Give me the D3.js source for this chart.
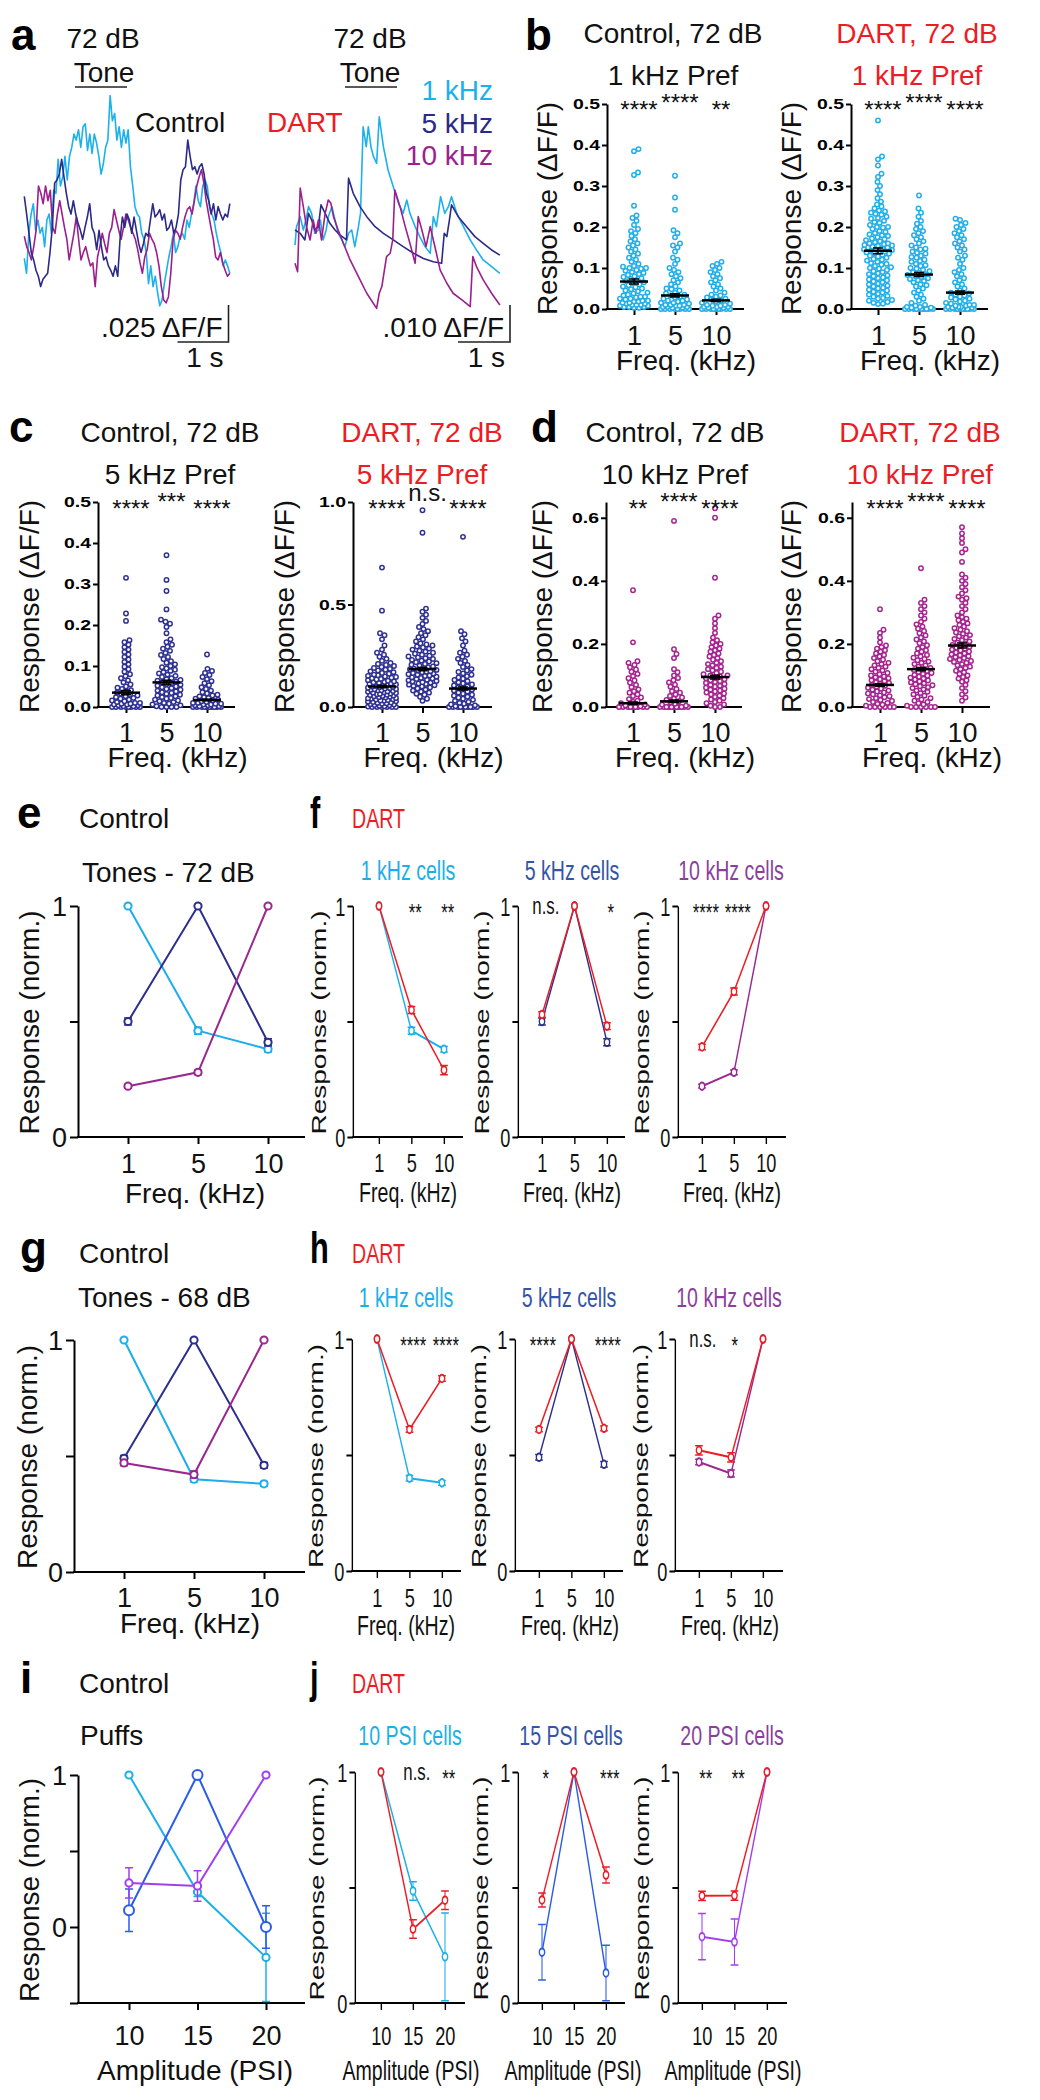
<!DOCTYPE html>
<html><head><meta charset="utf-8">
<script src="https://cdn.jsdelivr.net/npm/d3@7"></script>
<style>body{margin:0;background:#fff}svg{display:block}</style>
</head><body>
<svg id="fig" width="1040" height="2100"></svg>
<script>
// ================= DATA =================
// Panel a – example traces, values in ΔF/F × 1000 (baseline = 0)
const ctrlDuration = 4.03; // s, control traces sampled uniformly
const ctrl1k = [-17,-27,0,13,20,2,9,0,4,-9,9,13,0,29,27,50,32,38,52,36,52,58,67,63,70,58,72,74,56,67,54,67,61,52,40,47,58,63,93,76,81,63,72,58,70,61,70,45,32,18,13,11,0,-4,-13,-34,-22,-36,-29,-40,-49,-45,-34,-25,-16,-9,0,-13,-9,-2,0,-4,9,4,13,20,32,22,18,32,36,32,18,13,9,0,-7,-13,-22,-18,-22,-27];
const ctrl5k = [25,13,0,-13,-18,-25,-29,-36,-31,-29,-27,-13,4,34,36,40,50,38,27,18,13,22,13,7,2,-4,4,11,20,4,0,-11,2,-9,-18,-16,-22,-25,-29,-22,-29,-4,11,4,13,9,0,11,2,-7,-13,-7,0,-2,9,20,11,13,16,9,13,2,4,9,0,4,13,36,43,45,63,52,43,45,40,45,47,40,27,22,13,20,9,18,13,9,13,11,20];
const ctrl10k = [-2,-9,-13,-18,-9,2,32,27,20,32,22,29,4,0,13,22,13,4,-4,-18,-9,0,11,-4,-18,-13,-9,-16,-22,-20,-36,-16,-9,0,-7,-13,0,4,16,9,2,-4,4,13,9,4,0,-4,-11,-20,-27,-16,-11,0,-4,-7,-13,-22,-36,-45,-47,-43,-27,-4,2,0,-4,4,11,16,18,13,22,32,38,43,34,22,13,4,-4,-16,-18,-13,-20,-25,-29,-27];
// DART traces: [time (s), ΔF/F × 1000]
const dart1k = [[0,-3.2],[.03,1.8],[.10,4.5],[.16,.9],[.21,3.6],[.26,7.2],[.32,5.4],[.38,0],[.45,.9],[.49,3.6],[.54,-1.8],[.60,.9],[.64,4.5],[.71,7.2],[.77,3.6],[.83,0],[.90,-1.8],[.96,-3.6],[1.03,0],[1.09,.9],[1.15,-3.6],[1.22,1.8],[1.26,5.4],[1.31,28.8],[1.37,23.4],[1.41,28.8],[1.46,23.4],[1.51,20.7],[1.57,18.9],[1.62,31.5],[1.70,23.4],[1.79,17.1],[1.89,12.6],[1.99,8.1],[2.08,5.4],[2.15,9],[2.21,5.4],[2.31,1.8],[2.40,-.9],[2.50,-3.6],[2.60,-5.4],[2.66,4.5],[2.72,1.8],[2.80,9.9],[2.88,5.4],[2.95,7.2],[3.01,9.9],[3.11,5.4],[3.24,1.8],[3.37,-1.8],[3.49,-4.5],[3.62,-7.2],[3.78,-9],[3.94,-10.8]];
const dart5k = [[0,.9],[.10,0],[.19,-1.8],[.26,5.4],[.32,3.6],[.38,.9],[.45,1.8],[.50,7.7],[.58,5.4],[.67,2.7],[.77,.9],[.87,-.5],[.99,-1.8],[1.03,14.9],[1.12,10.8],[1.25,7.2],[1.38,4.5],[1.54,1.8],[1.70,0],[1.89,-1.8],[2.08,-3.6],[2.28,-5.4],[2.47,-6.8],[2.66,-7.7],[2.82,-8.1],[2.87,0],[2.92,-.9],[2.97,3.6],[3.01,7.7],[3.14,4.5],[3.30,1.8],[3.46,-.9],[3.62,-2.7],[3.78,-4.5],[3.94,-5.9]];
const dart10k = [[0,-8.1],[.05,-10.4],[.10,12.2],[.16,7.2],[.22,1.8],[.29,-1.8],[.35,3.6],[.40,0],[.45,3.6],[.51,-1.8],[.58,5.4],[.64,9],[.69,8.1],[.74,4.5],[.83,.9],[.93,-2.7],[1.06,-7.2],[1.22,-11.7],[1.38,-16.2],[1.57,-20.3],[1.62,-16.2],[1.67,-14.4],[1.70,-11.7],[1.76,-6.3],[1.83,-5.4],[1.88,-1.8],[1.92,11.7],[2.02,7.2],[2.12,1.8],[2.21,-2.7],[2.31,-8.1],[2.37,4.5],[2.44,.9],[2.52,-3.6],[2.60,1.8],[2.66,-1.8],[2.72,-5.4],[2.79,-9.9],[2.92,-13.5],[3.04,-16.2],[3.21,-18],[3.37,-19.8],[3.42,-6.3],[3.49,-9],[3.62,-12.6],[3.78,-16.2],[3.94,-19.4]];
const ctrlBar = 25, dartBar = 10; // ΔF/F ×1000 (.025, .010), time bar 1 s

// Panels b–d – single-cell responses (ΔF/F) at 1, 5, 10 kHz
const freqCats = ["1","5","10"];
const bCtrl1 = [.39,.385,.333,.327,.252,.228,.222,.215,.205,.195,.19,.185,.178,.17,.165,.16,.155,.15,.145,.14,.135,.13,.125,.12,.115,.11,.105,.103,.1,.1,.098,.095,.093,.09,.088,.085,.083,.08,.078,.075,.073,.07,.068,.065,.063,.06,.058,.055,.053,.05,.048,.045,.043,.04,.038,.035,.033,.03,.03,.028,.025,.025,.023,.02,.02,.018,.018,.015,.015,.013,.013,.01,.01,.01,.008,.008,.005,.005,.005,.003,.003];
const bCtrl5 = [.325,.272,.242,.192,.185,.175,.16,.155,.15,.14,.125,.12,.11,.1,.095,.09,.085,.08,.075,.07,.065,.06,.055,.05,.048,.045,.04,.038,.035,.033,.03,.028,.025,.023,.02,.02,.018,.015,.015,.013,.01,.01,.01,.008,.008,.005,.005,.005,.003,.003,0,0,0,0,0,0,0,0];
const bCtrl10 = [.115,.11,.105,.1,.095,.09,.085,.08,.075,.07,.065,.06,.055,.05,.045,.04,.035,.033,.03,.028,.025,.023,.02,.018,.015,.013,.01,.01,.008,.008,.005,.005,.005,.003,.003,0,0,0,0,0,0,0,0,0];
const bDart1 = [.46,.372,.365,.35,.33,.322,.31,.3,.29,.28,.27,.262,.255,.25,.245,.24,.238,.235,.232,.23,.225,.222,.22,.215,.212,.21,.205,.2,.2,.198,.195,.19,.188,.185,.182,.18,.178,.175,.172,.17,.168,.165,.163,.16,.16,.158,.156,.155,.154,.152,.15,.15,.148,.146,.145,.144,.142,.14,.14,.138,.136,.135,.132,.13,.128,.125,.122,.12,.118,.115,.112,.11,.108,.105,.102,.1,.098,.095,.092,.09,.087,.085,.082,.08,.077,.075,.072,.07,.067,.065,.062,.06,.057,.055,.052,.05,.047,.045,.042,.04,.037,.035,.032,.03,.027,.025,.022,.02,.017,.015,.013,.012];
const bDart5 = [.277,.245,.235,.225,.215,.208,.2,.195,.19,.185,.18,.175,.17,.165,.16,.155,.15,.147,.145,.14,.137,.135,.13,.127,.125,.12,.117,.115,.11,.107,.105,.1,.098,.095,.092,.09,.088,.085,.083,.08,.078,.075,.073,.07,.068,.065,.06,.058,.055,.05,.045,.04,.035,.03,.025,.02,.015,.01,.008,.005,.005,.003,.003,0,0,0,0,0,0,0,0,0,0];
const bDart10 = [.22,.217,.21,.205,.2,.195,.19,.185,.18,.175,.17,.165,.16,.155,.15,.145,.14,.13,.125,.12,.11,.1,.095,.09,.085,.08,.075,.07,.065,.06,.055,.05,.045,.04,.038,.035,.033,.03,.028,.025,.023,.02,.018,.015,.013,.01,.01,.008,.008,.005,.005,.005,.003,.003,0,0,0,0,0,0,0,0,0,0];
const cCtrl1 = [.315,.228,.21,.163,.158,.152,.146,.14,.134,.128,.122,.116,.11,.104,.098,.092,.086,.08,.075,.07,.065,.06,.055,.05,.047,.044,.041,.038,.035,.032,.03,.028,.026,.024,.022,.02,.018,.016,.014,.012,.01,.01,.008,.008,.006,.006,.004,.004,.002,.002,0,0,0,0,0,0,0,0];
const cCtrl5 = [.37,.31,.283,.238,.213,.208,.203,.195,.18,.165,.158,.152,.147,.142,.137,.132,.127,.122,.117,.112,.108,.104,.1,.097,.094,.091,.088,.085,.082,.079,.076,.073,.07,.068,.066,.064,.062,.06,.058,.056,.054,.052,.05,.048,.046,.044,.042,.04,.038,.036,.034,.032,.03,.028,.026,.024,.022,.02,.018,.016,.014,.012,.01,.008,.006,.004,.002,0,0,0,0];
const cCtrl10 = [.128,.093,.088,.083,.078,.073,.068,.063,.058,.053,.048,.044,.04,.036,.033,.03,.028,.026,.024,.022,.02,.018,.016,.014,.012,.01,.01,.008,.008,.006,.006,.004,.004,.002,.002,0,0,0,0,0,0,0,0,0,0];
const cDart1 = [.68,.47,.36,.35,.33,.3,.28,.265,.255,.245,.235,.225,.215,.21,.205,.2,.195,.19,.186,.182,.178,.174,.17,.166,.162,.158,.155,.152,.149,.146,.143,.14,.137,.134,.131,.128,.125,.122,.12,.117,.115,.112,.11,.107,.105,.102,.1,.098,.096,.094,.092,.09,.088,.086,.084,.082,.08,.078,.076,.074,.072,.07,.068,.066,.064,.062,.06,.058,.056,.054,.052,.05,.048,.046,.044,.042,.04,.038,.036,.034,.032,.03,.028,.026,.024,.022,.02,.018,.016,.014,.012,.01,.008,.006,.004,.002,0,0,0,0,0,0];
const cDart5 = [.96,.85,.48,.465,.45,.435,.42,.405,.39,.38,.37,.36,.35,.34,.33,.32,.31,.305,.3,.295,.29,.285,.28,.275,.27,.265,.26,.255,.25,.246,.242,.238,.234,.23,.226,.222,.218,.214,.21,.206,.202,.198,.194,.19,.187,.184,.181,.178,.175,.172,.169,.166,.163,.16,.157,.154,.151,.148,.145,.142,.139,.136,.133,.13,.127,.124,.121,.118,.115,.112,.109,.106,.103,.1,.095,.09,.085,.08,.075,.07,.065,.06,.05,.04,.03];
const cDart10 = [.83,.37,.355,.335,.32,.3,.275,.265,.255,.245,.235,.225,.215,.205,.195,.185,.178,.171,.164,.157,.15,.144,.138,.132,.126,.12,.115,.11,.105,.1,.095,.09,.085,.08,.075,.07,.065,.06,.055,.05,.045,.04,.035,.03,.025,.02,.016,.012,.008,.004,0,0,0,0,0,0,0,0,0,0];
const dCtrl1 = [.37,.205,.145,.14,.133,.126,.119,.112,.105,.098,.091,.084,.077,.07,.063,.056,.05,.045,.04,.035,.03,.025,.02,.016,.012,.008,.005,.002,0,0,0,0,0,0,0,0,0];
const dCtrl5 = [.59,.183,.168,.155,.12,.11,.1,.092,.085,.078,.071,.064,.057,.05,.045,.04,.035,.03,.026,.022,.018,.014,.01,.007,.004,0,0,0,0,0,0,0,0,0,0,0];
const dCtrl10 = [.63,.6,.41,.29,.28,.265,.25,.235,.22,.212,.205,.2,.195,.19,.185,.18,.175,.17,.165,.16,.155,.15,.145,.14,.136,.132,.128,.124,.12,.116,.112,.108,.104,.1,.1,.097,.094,.091,.088,.085,.082,.079,.076,.073,.07,.067,.064,.061,.058,.055,.052,.049,.046,.043,.04,.036,.032,.028,.024,.02,.016,.012,.008,.004,0,0];
const dDart1 = [.31,.245,.235,.22,.205,.195,.19,.185,.18,.175,.17,.165,.16,.155,.15,.145,.14,.136,.132,.128,.124,.12,.116,.112,.108,.104,.1,.097,.094,.091,.088,.085,.082,.079,.076,.073,.07,.067,.064,.061,.058,.055,.052,.049,.046,.043,.04,.037,.034,.031,.028,.025,.022,.019,.016,.013,.01,.007,.004,0,0,0,0,0,0];
const dDart5 = [.44,.34,.33,.32,.31,.3,.29,.28,.27,.262,.255,.248,.241,.234,.227,.22,.214,.208,.202,.196,.19,.185,.18,.175,.17,.165,.16,.156,.152,.148,.144,.14,.136,.132,.128,.124,.12,.117,.114,.111,.108,.105,.102,.099,.096,.093,.09,.087,.084,.081,.078,.075,.072,.069,.066,.063,.06,.056,.052,.048,.044,.04,.036,.032,.028,.024,.02,.016,.012,.008,.004,0,0,0,0,0,0];
const dDart10 = [.57,.55,.535,.52,.5,.49,.46,.42,.41,.4,.39,.38,.37,.36,.35,.345,.34,.33,.32,.31,.3,.29,.285,.28,.275,.27,.265,.26,.255,.25,.245,.24,.236,.232,.228,.224,.22,.216,.212,.208,.204,.2,.197,.194,.191,.188,.185,.182,.179,.176,.173,.17,.167,.164,.161,.158,.155,.152,.149,.146,.143,.14,.136,.132,.128,.124,.12,.115,.11,.105,.1,.095,.09,.085,.08,.07,.06,.05,.04,.03,.02];
// group means ± SEM
const bCtrlMean = [.067,.033,.021], bCtrlSem = [.006,.004,.003];
const bDartMean = [.142,.084,.04],  bDartSem = [.007,.005,.004];
const cCtrlMean = [.035,.06,.017],  cCtrlSem = [.005,.005,.002];
const cDartMean = [.1,.185,.09],    cDartSem = [.006,.008,.007];
const dCtrlMean = [.012,.018,.095], dCtrlSem = [.004,.004,.006];
const dDartMean = [.07,.12,.195],   dDartSem = [.004,.005,.008];
const bCtrlStars = ["****","****","**"], bDartStars = ["****","****","****"];
const cCtrlStars = ["****","***","****"], cDartStars = ["****","n.s.","****"];
const dCtrlStars = ["**","****","****"], dDartStars = ["****","****","****"];

// Panels e–h – normalized tuning curves (tones), categories 1, 5, 10 kHz
const e72_1k = [1,.46,.38],  e72_1kSem = [0,.015,.012];
const e72_5k = [.5,1,.41],   e72_5kSem = [.015,0,.015];
const e72_10k = [.22,.28,1], e72_10kSem = [.008,.01,0];
const f72_1k = [1,.55,.29],  f72_1kSem = [0,.015,.02];
const f72_5k = [.53,1,.48],  f72_5kSem = [.012,0,.015];
const f72_10k = [.39,.63,1], f72_10kSem = [.012,.015,0];
const g68_1k = [1,.4,.38],   g68_1kSem = [0,.012,.01];
const g68_5k = [.49,1,.46],  g68_5kSem = [.012,0,.012];
const g68_10k = [.47,.42,1], g68_10kSem = [.012,.015,0];
const h68_1k = [1,.61,.83],  h68_1kSem = [0,.012,.012];
const h68_5k = [.61,1,.615], h68_5kSem = [.01,0,.01];
const h68_10k = [.52,.49,1], h68_10kSem = [.02,.02,0];
const fStars = [["","**","**"],["n.s.","","*"],["****","****",""]];
const hStars = [["","****","****"],["****","","****"],["n.s.","*",""]];
// Panels i–j – air puffs, categories 10, 15, 20 PSI
const psiCats = ["10","15","20"];
const iPsi10 = [1,.23,-.2],  iPsi10Sem = [0,.03,.29];
const iPsi15 = [.11,1,0],    iPsi15Sem = [.14,0,.14];
const iPsi20 = [.29,.27,1],  iPsi20Sem = [.1,.1,0];
const jCtrl10 = [1,.485,.2], jCtrl10Sem = [0,.04,.19];
const jCtrl15 = [.22,1,.13], jCtrl15Sem = [.12,0,.12];
const jCtrl20 = [.287,.264,1], jCtrl20Sem = [.1,.1,0];
const jDart10 = [1,.32,.445], jDart10Sem = [0,.04,.04];
const jDart15 = [.446,1,.554], jDart15Sem = [.03,0,.035];
const jDart20 = [.464,.465,1], jDart20Sem = [.02,.02,0];
const jStars = [["","n.s.","**"],["*","","***"],["**","**",""]];

// ================= STYLE =================
const FONT = '"Liberation Sans", Arial, Helvetica, sans-serif';
const RED = "#ed1c24";
const TR = {c:"#1db1ec", n:"#2b2a88", m:"#9c1f8d"};          // traces
const SW = {c:"#22aee8", n:"#2e3192", m:"#a6248f"};          // swarm dots
const LN = {c:"#1caeea", n:"#2b2f8c", m:"#9a2690"};          // tuning lines
const PS = {c:"#1cb0e6", b:"#2a5ce8", v:"#a23ef0"};          // puff lines
const T5 = "#3454a6", T10 = "#8a3f9c";

const svg = d3.select("#fig").attr("font-family", FONT);

function txt(g, x, y, s, o = {}) {
  const t = g.append("text").attr("x", x).attr("y", y).text(s)
    .attr("font-size", o.size || 28).attr("fill", o.color || "#111")
    .attr("text-anchor", o.anchor || "start");
  if (o.bold) t.attr("font-weight", "bold");
  if (o.rotate) t.attr("transform", `rotate(-90,${x},${y})`);
  return t;
}

// ================= PANEL a =================
(function(){
  const g = svg.append("g");
  txt(g, 11, 50, "a", {size:44, bold:true, color:"#000"});
  txt(g, 103, 48, "72 dB", {anchor:"middle"});
  txt(g, 104, 82, "Tone", {anchor:"middle"});
  g.append("line").attr("x1",75).attr("x2",127).attr("y1",87).attr("y2",87).attr("stroke","#222").attr("stroke-width",1.5);
  txt(g, 135, 132, "Control");
  txt(g, 370, 48, "72 dB", {anchor:"middle"});
  txt(g, 370, 82, "Tone", {anchor:"middle"});
  g.append("line").attr("x1",345).attr("x2",397).attr("y1",87).attr("y2",87).attr("stroke","#222").attr("stroke-width",1.5);
  txt(g, 267, 132, "DART", {color:RED});
  txt(g, 493, 100, "1 kHz", {anchor:"end", color:TR.c});
  txt(g, 493, 133, "5 kHz", {anchor:"end", color:TR.n});
  txt(g, 493, 165, "10 kHz", {anchor:"end", color:TR.m});

  const cx = d3.scaleLinear().domain([0,1]).range([24.3, 75.3]);
  const cy = d3.scaleLinear().domain([0,25]).range([233.3, 196.3]);
  const lineU = arr => d3.line().x((d,i)=>cx(i*ctrlDuration/(arr.length-1))).y(d=>cy(d))(arr);
  [[ctrl1k,TR.c],[ctrl10k,TR.m],[ctrl5k,TR.n]].forEach(([a,c]) =>
    g.append("path").attr("d", lineU(a)).attr("fill","none").attr("stroke",c).attr("stroke-width",1.6).attr("stroke-linejoin","round"));
  const dx = d3.scaleLinear().domain([0,1]).range([295, 347]);
  const dy = d3.scaleLinear().domain([0,10]).range([233.3, 196.3]);
  const lineP = d3.line().x(d=>dx(d[0])).y(d=>dy(d[1]));
  [[dart1k,TR.c],[dart5k,TR.n],[dart10k,TR.m]].forEach(([a,c]) =>
    g.append("path").attr("d", lineP(a)).attr("fill","none").attr("stroke",c).attr("stroke-width",1.6).attr("stroke-linejoin","round"));

  function bar(xs, ys, vmax, xRight, label) {
    const w = xs(1) - xs(0), h = ys(0) - ys(vmax), ybot = 342;
    g.append("path").attr("d", `M${xRight},${ybot - h}V${ybot}H${xRight - w}`)
      .attr("fill","none").attr("stroke","#222").attr("stroke-width",1.6);
    txt(g, xRight - 6, 337, label, {anchor:"end"});
    txt(g, xRight - 5, 367, "1 s", {anchor:"end"});
  }
  bar(cx, cy, ctrlBar, 228.5, ".025 ΔF/F");
  bar(dx, dy, dartBar, 510, ".010 ΔF/F");
})();

// ================= BEESWARM CHARTS =================
function beeswarm(vals, y, D, W) {
  const pts = vals.map(v => ({v, y: y(v)})).sort((a,b) => b.y - a.y);
  const placed = [];
  for (const p of pts) {
    let best = 0, bestScore = -1, found = false;
    for (let k = 0; k <= 4 * W; k++) {
      const dxx = (k % 2 === 1 ? 1 : -1) * Math.ceil(k/2) * 0.5;
      let md = Infinity;
      for (const q of placed) {
        const ddx = dxx - q.dx, ddy = p.y - q.y;
        const d2 = ddx*ddx + ddy*ddy;
        if (d2 < md) md = d2;
      }
      if (md >= D*D) { p.dx = dxx; found = true; break; }
      if (md > bestScore) { bestScore = md; best = dxx; }
    }
    if (!found) p.dx = best;
    placed.push(p);
  }
  return placed;
}

function swarmChart(c) {
  const g = svg.append("g");
  const y = d3.scaleLinear().domain([0, c.ymax]).range([c.y0, c.yTop]);
  const x = d3.scalePoint().domain(freqCats).range([c.c0, c.c2]);
  const ya = g.append("g").attr("transform", `translate(${c.ax},0)`)
    .call(d3.axisLeft(y).tickValues(c.ticks).tickFormat(d3.format(".1f")).tickSize(5).tickSizeOuter(0).tickPadding(2));
  ya.attr("font-family", FONT);
  ya.select(".domain").attr("stroke","#000").attr("stroke-width",2);
  ya.selectAll(".tick line").attr("stroke","#000").attr("stroke-width",2);
  ya.selectAll(".tick text").attr("font-size",15).attr("font-weight","bold").attr("fill","#000")
    .attr("textLength",27).attr("lengthAdjust","spacingAndGlyphs");
  g.append("line").attr("x1", c.ax - 1).attr("x2", c.xEnd).attr("y1", c.y0).attr("y2", c.y0).attr("stroke","#000").attr("stroke-width",2);
  const xa = g.append("g").attr("transform", `translate(0,${c.y0})`)
    .call(d3.axisBottom(x).tickSize(6).tickSizeOuter(0));
  xa.attr("font-family", FONT);
  xa.select(".domain").remove();
  xa.selectAll(".tick line").attr("stroke","#000").attr("stroke-width",2);
  xa.selectAll(".tick text").attr("y", c.labBase - c.y0).attr("dy", 0).attr("font-size",27).attr("fill","#111");

  c.data.forEach((vals, gi) => {
    const pts = beeswarm(vals, y, 4.6, 14);
    const cx = x(freqCats[gi]);
    g.append("g").selectAll("circle").data(pts).join("circle")
      .attr("cx", d => cx + d.dx).attr("cy", d => d.y).attr("r", 2.2)
      .attr("fill","#fff").attr("stroke", c.color).attr("stroke-width", 1.5);
  });
  c.means.forEach((m, gi) => {
    const cx = x(freqCats[gi]), s = c.sems[gi];
    g.append("line").attr("x1",cx-14).attr("x2",cx+14).attr("y1",y(m)).attr("y2",y(m)).attr("stroke","#000").attr("stroke-width",2.5);
    g.append("path").attr("d", `M${cx},${y(m-s)}V${y(m+s)}M${cx-5},${y(m-s)}H${cx+5}M${cx-5},${y(m+s)}H${cx+5}`)
      .attr("stroke","#000").attr("stroke-width",1.5).attr("fill","none");
  });
  c.stars.forEach((s, gi) => {
    const ns = s === "n.s.";
    const base = gi === 1 ? c.starBase - 7 : c.starBase;
    txt(g, x(freqCats[gi]) + 5, ns ? base - 9 : base, s, {anchor:"middle", size:24});
  });
  txt(g, x("5") + 11, c.xlabBase, "Freq. (kHz)", {anchor:"middle"});
  txt(g, c.ylabX, (c.y0 + c.yTop) / 2 + 2, "Response (ΔF/F)", {anchor:"middle", rotate:true});
  txt(g, c.titleX, c.titleBase, c.t1, {anchor:"middle", color:c.tColor});
  txt(g, c.titleX, c.titleBase + 42, c.t2, {anchor:"middle", color:c.tColor});
}

const tk5 = [0,.1,.2,.3,.4,.5];
swarmChart({ax:607, y0:309, yTop:104, ymax:.5, ticks:tk5, c0:634, c2:716, xEnd:744, labBase:345, xlabBase:370, ylabX:557,
  data:[bCtrl1,bCtrl5,bCtrl10], means:bCtrlMean, sems:bCtrlSem, color:SW.c, stars:bCtrlStars, starBase:118,
  titleX:673, titleBase:43, t1:"Control, 72 dB", t2:"1 kHz Pref", tColor:"#111"});
swarmChart({ax:851, y0:309, yTop:104, ymax:.5, ticks:tk5, c0:878, c2:960, xEnd:988, labBase:345, xlabBase:370, ylabX:801,
  data:[bDart1,bDart5,bDart10], means:bDartMean, sems:bDartSem, color:SW.c, stars:bDartStars, starBase:118,
  titleX:917, titleBase:43, t1:"DART, 72 dB", t2:"1 kHz Pref", tColor:RED});
swarmChart({ax:98, y0:707, yTop:502, ymax:.5, ticks:tk5, c0:126, c2:207, xEnd:235, labBase:742, xlabBase:767, ylabX:39,
  data:[cCtrl1,cCtrl5,cCtrl10], means:cCtrlMean, sems:cCtrlSem, color:SW.n, stars:cCtrlStars, starBase:517,
  titleX:170, titleBase:442, t1:"Control, 72 dB", t2:"5 kHz Pref", tColor:"#111"});
swarmChart({ax:353, y0:707, yTop:502, ymax:1, ticks:[0,.5,1], c0:382, c2:463, xEnd:492, labBase:742, xlabBase:767, ylabX:294,
  data:[cDart1,cDart5,cDart10], means:cDartMean, sems:cDartSem, color:SW.n, stars:cDartStars, starBase:517,
  titleX:422, titleBase:442, t1:"DART, 72 dB", t2:"5 kHz Pref", tColor:RED});
swarmChart({ax:606, y0:707, yTop:502, ymax:.65, ticks:[0,.2,.4,.6], c0:633, c2:715, xEnd:742, labBase:742, xlabBase:767, ylabX:552,
  data:[dCtrl1,dCtrl5,dCtrl10], means:dCtrlMean, sems:dCtrlSem, color:SW.m, stars:dCtrlStars, starBase:517,
  titleX:675, titleBase:442, t1:"Control, 72 dB", t2:"10 kHz Pref", tColor:"#111"});
swarmChart({ax:852, y0:707, yTop:502, ymax:.65, ticks:[0,.2,.4,.6], c0:880, c2:962, xEnd:990, labBase:742, xlabBase:767, ylabX:801,
  data:[dDart1,dDart5,dDart10], means:dDartMean, sems:dDartSem, color:SW.m, stars:dDartStars, starBase:517,
  titleX:920, titleBase:442, t1:"DART, 72 dB", t2:"10 kHz Pref", tColor:RED});
txt(svg, 525, 50, "b", {size:44, bold:true, color:"#000"});
txt(svg, 9, 442, "c", {size:44, bold:true, color:"#000"});
txt(svg, 531, 442, "d", {size:44, bold:true, color:"#000"});

// ================= LINE PLOTS =================
function linePlot(g, c) {
  const ymin = c.ymin === undefined ? 0 : c.ymin;
  const y = d3.scaleLinear().domain([ymin, 1]).range([c.yb, c.y1]);
  const x = d3.scalePoint().domain(c.cats).range([c.c0, c.c2]);
  const ticks = ymin < 0 ? [ymin, 0, .5, 1] : [0, .5, 1];
  const ya = g.append("g").attr("transform", `translate(${c.ax},0)`)
    .call(d3.axisLeft(y).tickValues(ticks).tickFormat(d => d === 1 ? "1" : d === 0 ? "0" : "").tickSize(8).tickSizeOuter(0).tickPadding(3));
  ya.attr("font-family", FONT);
  ya.select(".domain").attr("stroke","#000").attr("stroke-width",2);
  ya.selectAll(".tick line").attr("stroke","#000").attr("stroke-width",2);
  ya.selectAll(".tick text").attr("font-size", c.tsize).attr("fill","#111").attr("dy","0.36em");
  g.append("line").attr("x1", c.ax - 1).attr("x2", c.xEnd).attr("y1", c.yb).attr("y2", c.yb).attr("stroke","#000").attr("stroke-width",2);
  const xa = g.append("g").attr("transform", `translate(0,${c.yb})`).call(d3.axisBottom(x).tickSize(7).tickSizeOuter(0));
  xa.attr("font-family", FONT);
  xa.select(".domain").remove();
  xa.selectAll(".tick line").attr("stroke","#000").attr("stroke-width",2);
  xa.selectAll(".tick text").attr("y", c.labBase - c.yb).attr("dy", 0).attr("font-size", c.tsize).attr("fill","#111");

  const line = d3.line().x((d,i) => x(c.cats[i])).y(d => y(d));
  c.series.forEach(s => {
    g.append("path").attr("d", line(s.v)).attr("fill","none").attr("stroke", s.color).attr("stroke-width",2);
    s.v.forEach((v,i) => {
      const e = s.sem[i]; if (!e) return;
      const cx = x(c.cats[i]);
      g.append("path").attr("d", `M${cx},${y(v-e)}V${y(v+e)}M${cx-c.cap},${y(v-e)}H${cx+c.cap}M${cx-c.cap},${y(v+e)}H${cx+c.cap}`)
        .attr("stroke", s.color).attr("stroke-width",1.5).attr("fill","none");
    });
    g.append("g").selectAll("circle").data(s.v).join("circle")
      .attr("cx", (d,i) => x(c.cats[i])).attr("cy", d => y(d)).attr("r", s.r || c.r)
      .attr("fill","#fff").attr("stroke", s.color).attr("stroke-width",2);
  });
  if (c.stars) c.stars.forEach((s,i) => {
    if (!s) return;
    const ns = s === "n.s.";
    txt(g, x(c.cats[i]) + c.starDx, c.y1 + (ns ? 8 : 15), s, {anchor:"middle", size:24});
  });
  txt(g, c.xlabX, c.xlabBase, c.xlab, {anchor:"middle"});
  txt(g, c.ylabX, (c.yb + c.y1) / 2 + 1, "Response (norm.)", {anchor:"middle", rotate:true});
}

// ---- e, g, i (normal width) ----
const gE = svg.append("g");
txt(gE, 17, 828, "e", {size:44, bold:true, color:"#000"});
txt(gE, 79, 828, "Control"); txt(gE, 82, 882, "Tones - 72 dB");
linePlot(gE, {ax:78, y1:906, yb:1137, cats:freqCats, c0:128, c2:268, xEnd:305, labBase:1173, xlab:"Freq. (kHz)", xlabX:195, xlabBase:1203,
  ylabX:39, tsize:27, r:3.6, cap:4, series:[
    {v:e72_1k, sem:e72_1kSem, color:LN.c}, {v:e72_5k, sem:e72_5kSem, color:LN.n}, {v:e72_10k, sem:e72_10kSem, color:LN.m}]});
const gG = svg.append("g");
txt(gG, 20, 1263, "g", {size:44, bold:true, color:"#000"});
txt(gG, 79, 1263, "Control"); txt(gG, 78, 1307, "Tones - 68 dB");
linePlot(gG, {ax:74, y1:1340, yb:1572, cats:freqCats, c0:124, c2:264, xEnd:305, labBase:1607, xlab:"Freq. (kHz)", xlabX:190, xlabBase:1633,
  ylabX:37, tsize:27, r:3.6, cap:4, series:[
    {v:g68_1k, sem:g68_1kSem, color:LN.c}, {v:g68_5k, sem:g68_5kSem, color:LN.n}, {v:g68_10k, sem:g68_10kSem, color:LN.m}]});
const gI = svg.append("g");
txt(gI, 20, 1693, "i", {size:44, bold:true, color:"#000"});
txt(gI, 79, 1693, "Control"); txt(gI, 80, 1745, "Puffs");
linePlot(gI, {ax:78, y1:1775, yb:2003, ymin:-.5, cats:psiCats, c0:129, c2:266, xEnd:305, labBase:2045, xlab:"Amplitude (PSI)", xlabX:195, xlabBase:2080,
  ylabX:39, tsize:27, r:3.6, cap:4, series:[
    {v:iPsi10, sem:iPsi10Sem, color:PS.c}, {v:iPsi15, sem:iPsi15Sem, color:PS.b, r:5}, {v:iPsi20, sem:iPsi20Sem, color:PS.v}]});

// ---- f, h, j (horizontally condensed panels) ----
const K = 0.7, X0 = 290;
const L = x => (x - X0) / K;
function narrowPanel(letter, base, rows) {
  const g = svg.append("g").attr("transform", `translate(${X0},0) scale(${K},1)`);
  txt(g, L(310), base.letter, letter, {size:44, bold:true, color:"#000"});
  txt(g, L(352), base.letter, "DART", {color:RED});
  rows.forEach(r => {
    txt(g, L(r.titleX), base.title, r.title, {anchor:"middle", color:r.tColor});
    linePlot(g, {ax:L(r.ax), y1:base.y1, yb:base.y0, cats:r.cats, c0:L(r.c0), c2:L(r.c2), xEnd:L(r.xEnd), labBase:base.lab,
      xlab:r.xlab, xlabX:L(r.xlabX), xlabBase:base.xlab, ylabX:L(r.ylabX), tsize:26, r:3.8, cap:5.5, stars:r.stars, starDx:5.5,
      series:r.series});
  });
}
narrowPanel("f", {letter:828, title:880, y1:906, y0:1137, lab:1172, xlab:1202}, [
  {title:"1 kHz cells", tColor:LN.c, titleX:408, ax:353, c0:379, c2:444, xEnd:463, xlabX:408, ylabX:326, cats:freqCats, xlab:"Freq. (kHz)", stars:fStars[0],
    series:[{v:e72_1k, sem:e72_1kSem, color:LN.c}, {v:f72_1k, sem:f72_1kSem, color:RED}]},
  {title:"5 kHz cells", tColor:T5, titleX:572, ax:518, c0:542, c2:607, xEnd:625, xlabX:572, ylabX:489, cats:freqCats, xlab:"Freq. (kHz)", stars:fStars[1],
    series:[{v:e72_5k, sem:e72_5kSem, color:LN.n}, {v:f72_5k, sem:f72_5kSem, color:RED}]},
  {title:"10 kHz cells", tColor:T10, titleX:731, ax:678, c0:702, c2:766, xEnd:786, xlabX:732, ylabX:649, cats:freqCats, xlab:"Freq. (kHz)", stars:fStars[2],
    series:[{v:e72_10k, sem:e72_10kSem, color:LN.m}, {v:f72_10k, sem:f72_10kSem, color:RED}]}
]);
narrowPanel("h", {letter:1263, title:1307, y1:1339, y0:1571, lab:1607, xlab:1635}, [
  {title:"1 kHz cells", tColor:LN.c, titleX:406, ax:352, c0:377, c2:442, xEnd:461, xlabX:406, ylabX:323, cats:freqCats, xlab:"Freq. (kHz)", stars:hStars[0],
    series:[{v:g68_1k, sem:g68_1kSem, color:LN.c}, {v:h68_1k, sem:h68_1kSem, color:RED}]},
  {title:"5 kHz cells", tColor:T5, titleX:569, ax:515, c0:539, c2:604, xEnd:623, xlabX:570, ylabX:486, cats:freqCats, xlab:"Freq. (kHz)", stars:hStars[1],
    series:[{v:g68_5k, sem:g68_5kSem, color:LN.n}, {v:h68_5k, sem:h68_5kSem, color:RED}]},
  {title:"10 kHz cells", tColor:T10, titleX:729, ax:675, c0:699, c2:763, xEnd:783, xlabX:730, ylabX:648, cats:freqCats, xlab:"Freq. (kHz)", stars:hStars[2],
    series:[{v:g68_10k, sem:g68_10kSem, color:LN.m}, {v:h68_10k, sem:h68_10kSem, color:RED}]}
]);
narrowPanel("j", {letter:1693, title:1745, y1:1772, y0:2003, lab:2045, xlab:2080}, [
  {title:"10 PSI cells", tColor:PS.c, titleX:410, ax:355, c0:381, c2:445, xEnd:465, xlabX:411, ylabX:324, cats:psiCats, xlab:"Amplitude (PSI)", stars:jStars[0],
    series:[{v:jCtrl10, sem:jCtrl10Sem, color:PS.c}, {v:jDart10, sem:jDart10Sem, color:RED}]},
  {title:"15 PSI cells", tColor:T5, titleX:571, ax:518, c0:542, c2:606, xEnd:625, xlabX:573, ylabX:488, cats:psiCats, xlab:"Amplitude (PSI)", stars:jStars[1],
    series:[{v:jCtrl15, sem:jCtrl15Sem, color:PS.b}, {v:jDart15, sem:jDart15Sem, color:RED}]},
  {title:"20 PSI cells", tColor:T10, titleX:732, ax:678, c0:702, c2:767, xEnd:787, xlabX:733, ylabX:649, cats:psiCats, xlab:"Amplitude (PSI)", stars:jStars[2],
    series:[{v:jCtrl20, sem:jCtrl20Sem, color:PS.v}, {v:jDart20, sem:jDart20Sem, color:RED}]}
]);
</script>
</body></html>
